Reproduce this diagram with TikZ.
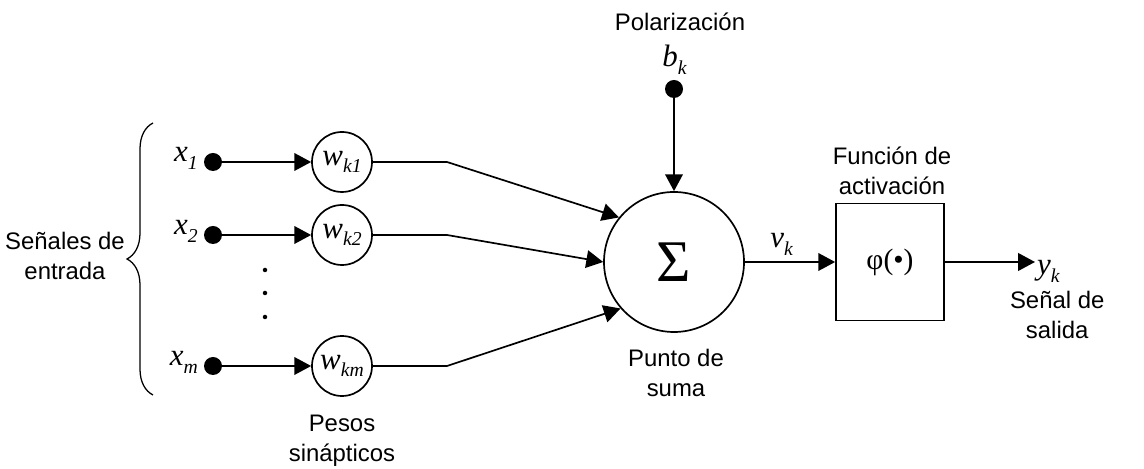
\documentclass[tikz,border=0pt]{standalone}
\usepackage{fontspec}
\setmainfont{Liberation Sans}
\newfontfamily\timesfont{Liberation Serif}
\usetikzlibrary{arrows.meta,positioning,decorations.pathreplacing}

% variable with italic subscript, Times-like
\newcommand{\sigvar}[2]{{\timesfont\fontsize{22}{22}\selectfont\textit{#1}\raisebox{-5.5pt}{\fontsize{14}{14}\selectfont\textit{#2}}}}

\tikzset{
    lbl/.style={font=\fontsize{17}{21}\selectfont, align=center},
    wnode/.style={draw, circle, line width=1.2pt, minimum size=1.5cm, inner sep=0pt},
    dot/.style={circle, fill, minimum size=0.45cm, inner sep=0pt},
    arr/.style={line width=1.2pt, -{Triangle[length=4.2mm,width=4.4mm]}},
}

\begin{document}
\begin{tikzpicture}
    \useasboundingbox (0,0) rectangle (28.6,11.725);

    % Input signals and synaptic weights
    \foreach \i/\y/\a in {1/7.675/141, 2/5.85/180, m/2.575/221} {
        \node[dot] (x\i) at (5.325,\y) {};
        \node[anchor=base east, inner sep=0pt] (lx\i) at (4.95,\y) {\sigvar{x}{\i}};
        \node[wnode] (w\i) at (8.55,\y) {\sigvar{w}{k\i}};
        \coordinate (k\i) at (11.175,\y);
        \draw[arr] (x\i) -- (w\i);
    }
    \foreach \d in {4.975,4.4,3.8} \fill (6.625,\d) circle (1.6pt);

    % Brace
    \coordinate (bb) at (3.825,1.85); \coordinate (bt) at (3.825,8.65);
    \draw[decorate, decoration={brace, amplitude=0.65cm}, line width=0.9pt] (bb) -- (bt);
    \node[lbl] (inp) at (1.625,5.325) {Señales de\\entrada};
    \node[lbl] (pesos) at (8.55,0.7) {Pesos\\sinápticos};

    % Summing junction
    \node[wnode, minimum size=3.5cm] (sum) at (16.85,5.175) {\timesfont\fontsize{42}{42}\selectfont Σ};
    \node[lbl] (suma) at (16.9,2.4) {Punto de\\suma};
    \draw[arr] (w1.east) -- (k1) -- (sum.141);
    \draw[arr] (w2.east) -- (k2) -- (sum.180);
    \draw[arr] (wm.east) -- (km) -- (sum.221);

    % Bias
    \node[dot] (b) at (16.85,9.5) {};
    \node[anchor=base west, inner sep=0pt] (lb) at (16.55,10.05) {\sigvar{b}{k}};
    \node[lbl] (pol) at (17.0,11.175) {Polarización};
    \draw[arr] (b) -- (sum);

    % Activation function and output
    \node[draw, line width=1.2pt, minimum width=2.7cm, minimum height=2.925cm, font=\timesfont\fontsize{21}{21}\selectfont] (phi) at (22.25,5.175) {φ(•)};
    \node[lbl] (fact) at (22.3,7.45) {Función de\\activación};
    \draw[arr] (sum) -- (phi);
    \node[anchor=base west, inner sep=0pt] (lv) at (19.25,5.525) {\sigvar{v}{k}};
    \coordinate (out) at (25.875,5.175);
    \draw[arr] (phi) -- (out);
    \node[anchor=base west, inner sep=0pt] (ly) at (25.92,4.85) {\sigvar{y}{k}};
    \node[lbl] (sal) at (26.43,3.85) {Señal de\\salida};
\end{tikzpicture}
\end{document}
